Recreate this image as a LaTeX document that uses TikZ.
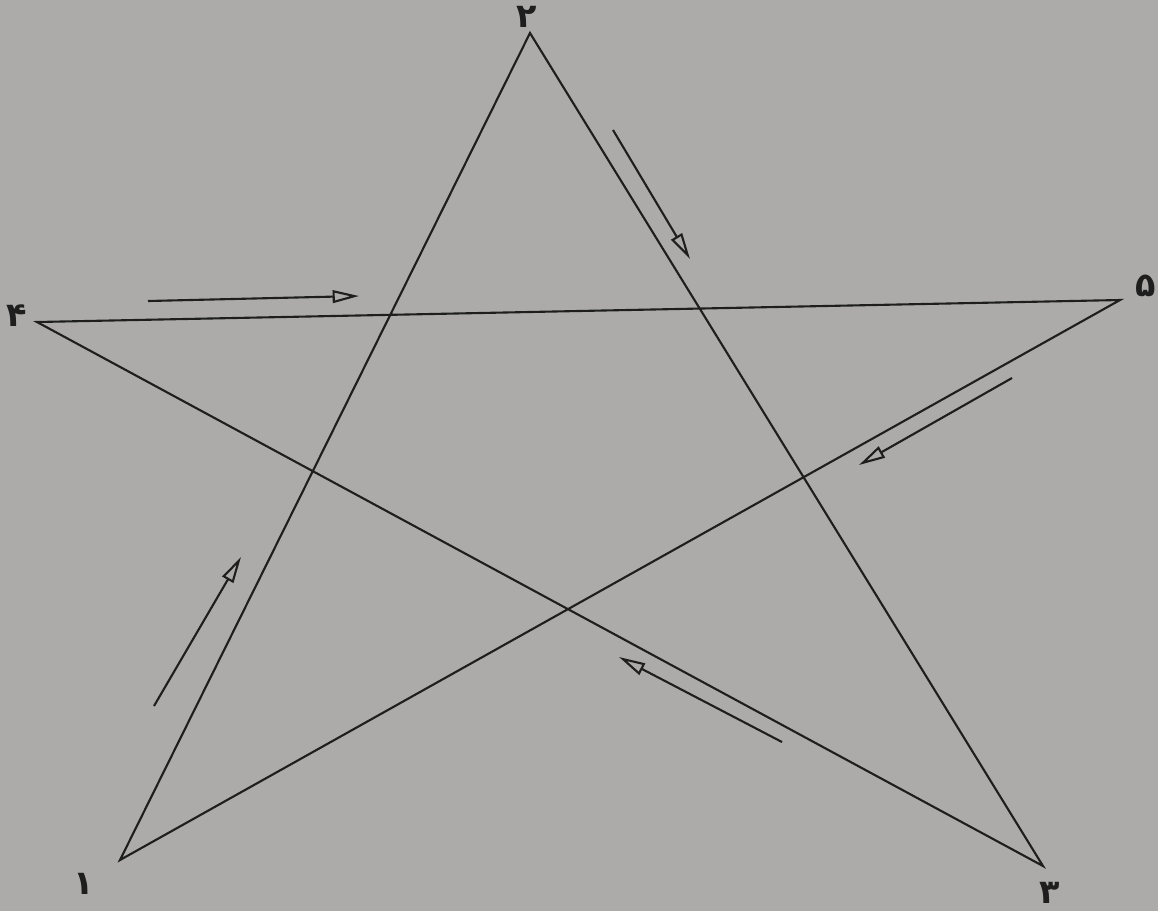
\documentclass[tikz,border=0pt]{standalone}
\usepackage{fontspec}
\newfontfamily\arabicfont[Script=Arabic]{DejaVu Sans}
\usetikzlibrary{arrows.meta}
\definecolor{bg}{RGB}{172,171,169}
\definecolor{ink}{RGB}{30,30,30}
\tikzset{
  edge/.style={draw=ink, line width=0.6pt},
  flow/.style={draw=ink, line width=0.6pt, -{Triangle[open, length=7.5pt, width=3.6pt, line width=0.6pt]}},
  lbl/.style={inner sep=0pt, text=ink, font=\arabicfont\bfseries\fontsize{9.5}{9.5}\selectfont}
}
\begin{document}
\begin{tikzpicture}[x=0.01cm, y=-0.01cm]
\fill[bg] (0,0) rectangle (1158,911);
\useasboundingbox (0,0) rectangle (1158,911);
% vertices
\coordinate (v1) at (120,860);
\coordinate (v2) at (530,33);
\coordinate (v3) at (1043,866);
\coordinate (v4) at (37,322);
\coordinate (v5) at (1120,300);
% star
\draw[edge] (v1) -- (v2) -- (v3) -- (v4) -- (v5) -- cycle;
% labels
\node[lbl] (l1) at (84,884) {۱};
\node[lbl] (l2) at (527,17) {۲};
\node[lbl] (l3) at (1050,893) {۳};
\node[lbl] (l4) at (17,316) {۴};
\node[lbl] (l5) at (1146,286) {۵};
% direction arrows
\coordinate (a12s) at (154,706); \coordinate (a12e) at (241,557);
\coordinate (a23s) at (613,130); \coordinate (a23e) at (690,259);
\coordinate (a34s) at (782,742); \coordinate (a34e) at (619,657);
\coordinate (a45s) at (148,301); \coordinate (a45e) at (359,296);
\coordinate (a51s) at (1012,378); \coordinate (a51e) at (859,465);
\draw[flow] (a12s) -- (a12e);
\draw[flow] (a23s) -- (a23e);
\draw[flow] (a34s) -- (a34e);
\draw[flow] (a45s) -- (a45e);
\draw[flow] (a51s) -- (a51e);
\end{tikzpicture}
\end{document}
